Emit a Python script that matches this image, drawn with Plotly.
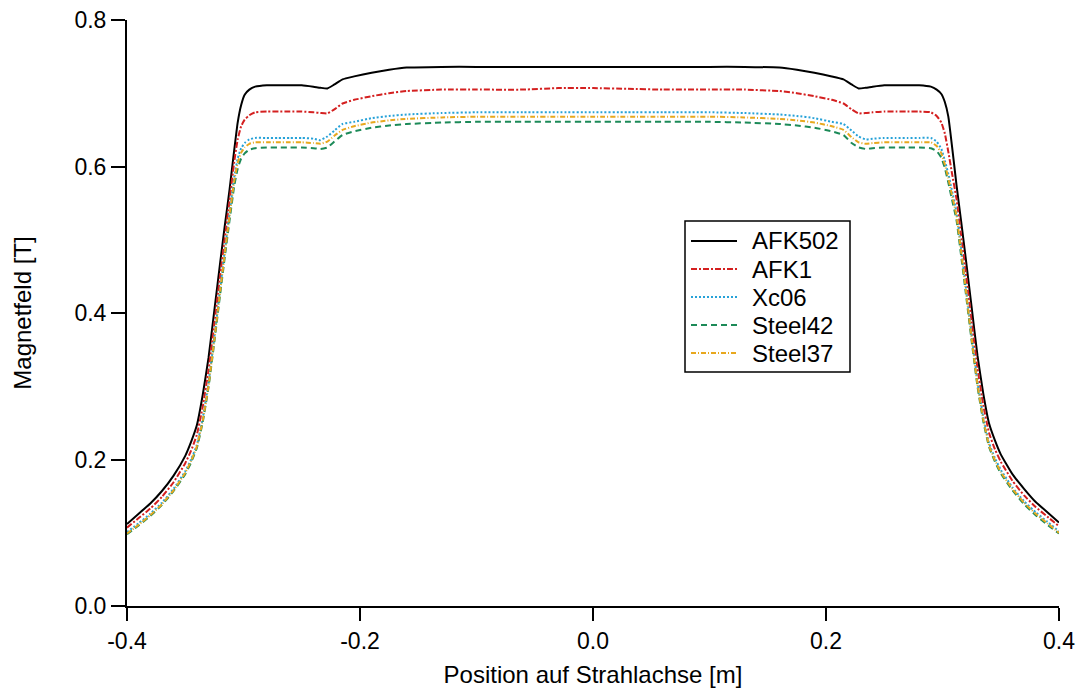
import plotly.graph_objects as go

# Position along beam axis [m]
position = [
    -0.400, -0.390, -0.380, -0.370, -0.360, -0.350, -0.345, -0.340, -0.335, -0.330,
    -0.325, -0.320, -0.316, -0.312, -0.308, -0.305, -0.302, -0.299, -0.295, -0.290,
    -0.280, -0.270, -0.260, -0.250, -0.240, -0.234, -0.228, -0.222, -0.215, -0.205,
    -0.190, -0.175, -0.160,
    -0.130, -0.100, -0.060, -0.030, 0.000, 0.030, 0.060, 0.100, 0.130,
    0.160, 0.175, 0.190, 0.205, 0.215, 0.222, 0.228, 0.234, 0.240, 0.250,
    0.260, 0.270, 0.280, 0.290, 0.295, 0.299, 0.302, 0.305, 0.308, 0.312,
    0.316, 0.320, 0.325, 0.330, 0.335, 0.340, 0.345, 0.350, 0.360, 0.370,
    0.380, 0.390, 0.400,
]

afk502 = [
    0.112, 0.126, 0.140, 0.157, 0.178, 0.205, 0.224, 0.247, 0.288, 0.339,
    0.404, 0.469, 0.520, 0.568, 0.622, 0.660, 0.684, 0.698, 0.705, 0.709,
    0.711, 0.711, 0.711, 0.711, 0.709, 0.7075, 0.7065, 0.712, 0.719, 0.723,
    0.728, 0.732, 0.735,
    0.736, 0.736, 0.736, 0.736, 0.736, 0.736, 0.736, 0.736, 0.736,
    0.735, 0.732, 0.728, 0.723, 0.719, 0.712, 0.7065, 0.7075, 0.709, 0.711,
    0.711, 0.711, 0.711, 0.709, 0.705, 0.699, 0.688, 0.668, 0.630, 0.575,
    0.525, 0.474, 0.408, 0.342, 0.290, 0.249, 0.226, 0.207, 0.180, 0.160,
    0.142, 0.128, 0.114,
]

afk1 = [
    0.107, 0.120, 0.133, 0.149, 0.169, 0.195, 0.212, 0.234, 0.272, 0.322,
    0.386, 0.452, 0.503, 0.553, 0.606, 0.637, 0.655, 0.664, 0.670, 0.674,
    0.675, 0.675, 0.675, 0.675, 0.674, 0.673, 0.6725, 0.678, 0.686, 0.691,
    0.696, 0.700, 0.703,
    0.705, 0.705, 0.705, 0.707, 0.707, 0.706, 0.705, 0.705, 0.705,
    0.703, 0.700, 0.696, 0.691, 0.686, 0.678, 0.6725, 0.673, 0.674, 0.675,
    0.675, 0.675, 0.675, 0.674, 0.669, 0.660, 0.645, 0.620, 0.592, 0.556,
    0.506, 0.455, 0.389, 0.325, 0.274, 0.236, 0.214, 0.197, 0.171, 0.151,
    0.135, 0.122, 0.109,
]

xc06 = [
    0.101, 0.113, 0.126, 0.141, 0.160, 0.184, 0.200, 0.220, 0.256, 0.305,
    0.368, 0.434, 0.486, 0.536, 0.585, 0.611, 0.625, 0.632, 0.637, 0.639,
    0.639, 0.639, 0.639, 0.639, 0.638, 0.636, 0.641, 0.649, 0.658, 0.661,
    0.666, 0.669, 0.671,
    0.673, 0.674, 0.674, 0.674, 0.674, 0.674, 0.674, 0.674, 0.673,
    0.671, 0.669, 0.666, 0.661, 0.658, 0.649, 0.641, 0.637, 0.638, 0.639,
    0.639, 0.639, 0.639, 0.639, 0.634, 0.624, 0.608, 0.590, 0.568, 0.538,
    0.488, 0.436, 0.370, 0.307, 0.258, 0.222, 0.202, 0.186, 0.162, 0.143,
    0.128, 0.115, 0.102,
]

steel42 = [
    0.098, 0.110, 0.123, 0.138, 0.157, 0.180, 0.196, 0.216, 0.251, 0.299,
    0.361, 0.426, 0.477, 0.526, 0.573, 0.597, 0.611, 0.618, 0.623, 0.625,
    0.626, 0.626, 0.626, 0.626, 0.625, 0.624, 0.626, 0.634, 0.643, 0.648,
    0.653, 0.656, 0.658,
    0.660, 0.661, 0.661, 0.661, 0.661, 0.661, 0.661, 0.661, 0.660,
    0.658, 0.656, 0.653, 0.648, 0.643, 0.632, 0.626, 0.624, 0.625, 0.626,
    0.626, 0.626, 0.626, 0.625, 0.621, 0.612, 0.598, 0.578, 0.556, 0.527,
    0.478, 0.427, 0.362, 0.300, 0.252, 0.217, 0.197, 0.181, 0.158, 0.139,
    0.124, 0.111, 0.099,
]

steel37 = [
    0.099, 0.111, 0.124, 0.139, 0.158, 0.182, 0.198, 0.218, 0.253, 0.301,
    0.364, 0.430, 0.482, 0.532, 0.580, 0.605, 0.619, 0.626, 0.631, 0.633,
    0.633, 0.633, 0.633, 0.633, 0.632, 0.631, 0.634, 0.642, 0.650, 0.655,
    0.660, 0.663, 0.665,
    0.667, 0.668, 0.668, 0.668, 0.668, 0.668, 0.668, 0.668, 0.667,
    0.665, 0.663, 0.660, 0.655, 0.650, 0.640, 0.633, 0.631, 0.632, 0.633,
    0.633, 0.633, 0.633, 0.633, 0.628, 0.618, 0.603, 0.584, 0.562, 0.533,
    0.484, 0.432, 0.366, 0.303, 0.255, 0.219, 0.199, 0.183, 0.160, 0.141,
    0.126, 0.113, 0.100,
]

series_names = ["AFK502", "AFK1", "Xc06", "Steel42", "Steel37"]
series_values = [afk502, afk1, xc06, steel42, steel37]
series_colors = ["#000000", "#d42020", "#27a2d8", "#1c8a58", "#e8a81e"]
series_dash = ["solid", "6px,2px,2px,2px", "2px,2px", "6px,4px", "5px,2px,1px,2px"]
series_width = [2, 2, 2, 2, 2]

x_ticks = [-0.4, -0.2, 0.0, 0.2, 0.4]
x_tick_labels = ["-0.4", "-0.2", "0.0", "0.2", "0.4"]
y_ticks = [0.0, 0.2, 0.4, 0.6, 0.8]
y_tick_labels = ["0.0", "0.2", "0.4", "0.6", "0.8"]

FONT = "Liberation Sans, Arial, Helvetica, sans-serif"

W, H = 1078, 693
ML, MR, MT, MB = 127, 19, 20, 87
PW, PH = W - ML - MR, H - MT - MB


def px_to_paper_x(px):
    return (px - ML) / PW


def px_to_paper_y(py):
    return (H - MB - py) / PH


fig = go.Figure()
for name, vals, col, dash, w in zip(series_names, series_values, series_colors,
                                    series_dash, series_width):
    fig.add_trace(go.Scatter(
        x=position, y=vals, mode="lines", name=name,
        line=dict(color=col, dash=dash, width=w, shape="spline", smoothing=0.4),
        showlegend=False,
    ))

# Legend box drawn in the same style as the reference (framed, tight rows)
legend_left, legend_right, legend_top, legend_bottom = 685, 850, 221, 372
legend_rows = [241, 269, 297, 325, 353]
sample_x0, sample_x1, text_x = 691, 737, 750

shapes = [dict(
    type="rect", xref="paper", yref="paper",
    x0=px_to_paper_x(legend_left), x1=px_to_paper_x(legend_right),
    y0=px_to_paper_y(legend_bottom), y1=px_to_paper_y(legend_top),
    line=dict(color="black", width=1.5), fillcolor="white", layer="above",
)]
annotations = []
for name, col, dash, w, row in zip(series_names, series_colors, series_dash,
                                   series_width, legend_rows):
    shapes.append(dict(
        type="line", xref="paper", yref="paper",
        x0=px_to_paper_x(sample_x0), x1=px_to_paper_x(sample_x1),
        y0=px_to_paper_y(row), y1=px_to_paper_y(row),
        line=dict(color=col, dash=dash, width=w), layer="above",
    ))
    annotations.append(dict(
        xref="paper", yref="paper", x=px_to_paper_x(text_x), y=px_to_paper_y(row),
        xanchor="left", yanchor="middle", text=name, showarrow=False,
        font=dict(family=FONT, size=24, color="black"),
    ))

fig.update_layout(
    width=W, height=H,
    margin=dict(l=ML, r=MR, t=MT, b=MB, autoexpand=False),
    paper_bgcolor="white", plot_bgcolor="white",
    font=dict(family=FONT, size=23, color="black"),
    showlegend=False,
    shapes=shapes,
    annotations=annotations,
    xaxis=dict(
        range=[-0.4, 0.4], tickvals=x_ticks, ticktext=x_tick_labels,
        showgrid=False, zeroline=False, showline=True, linecolor="black",
        linewidth=2, ticks="outside", ticklen=13, tickwidth=2, tickcolor="black",
        automargin=False,
        title=dict(text="Position auf Strahlachse [m]", standoff=14,
                   font=dict(family=FONT, size=24)),
        tickfont=dict(family=FONT, size=23),
    ),
    yaxis=dict(
        range=[0, 0.8], tickvals=y_ticks, ticktext=y_tick_labels,
        showgrid=False, zeroline=False, showline=True, linecolor="black",
        linewidth=2, ticks="outside", ticklen=14, tickwidth=2, tickcolor="black",
        automargin=False,
        title=dict(text="Magnetfeld [T]", standoff=36,
                   font=dict(family=FONT, size=24)),
        tickfont=dict(family=FONT, size=23),
    ),
)

fig.write_html("out.html")
